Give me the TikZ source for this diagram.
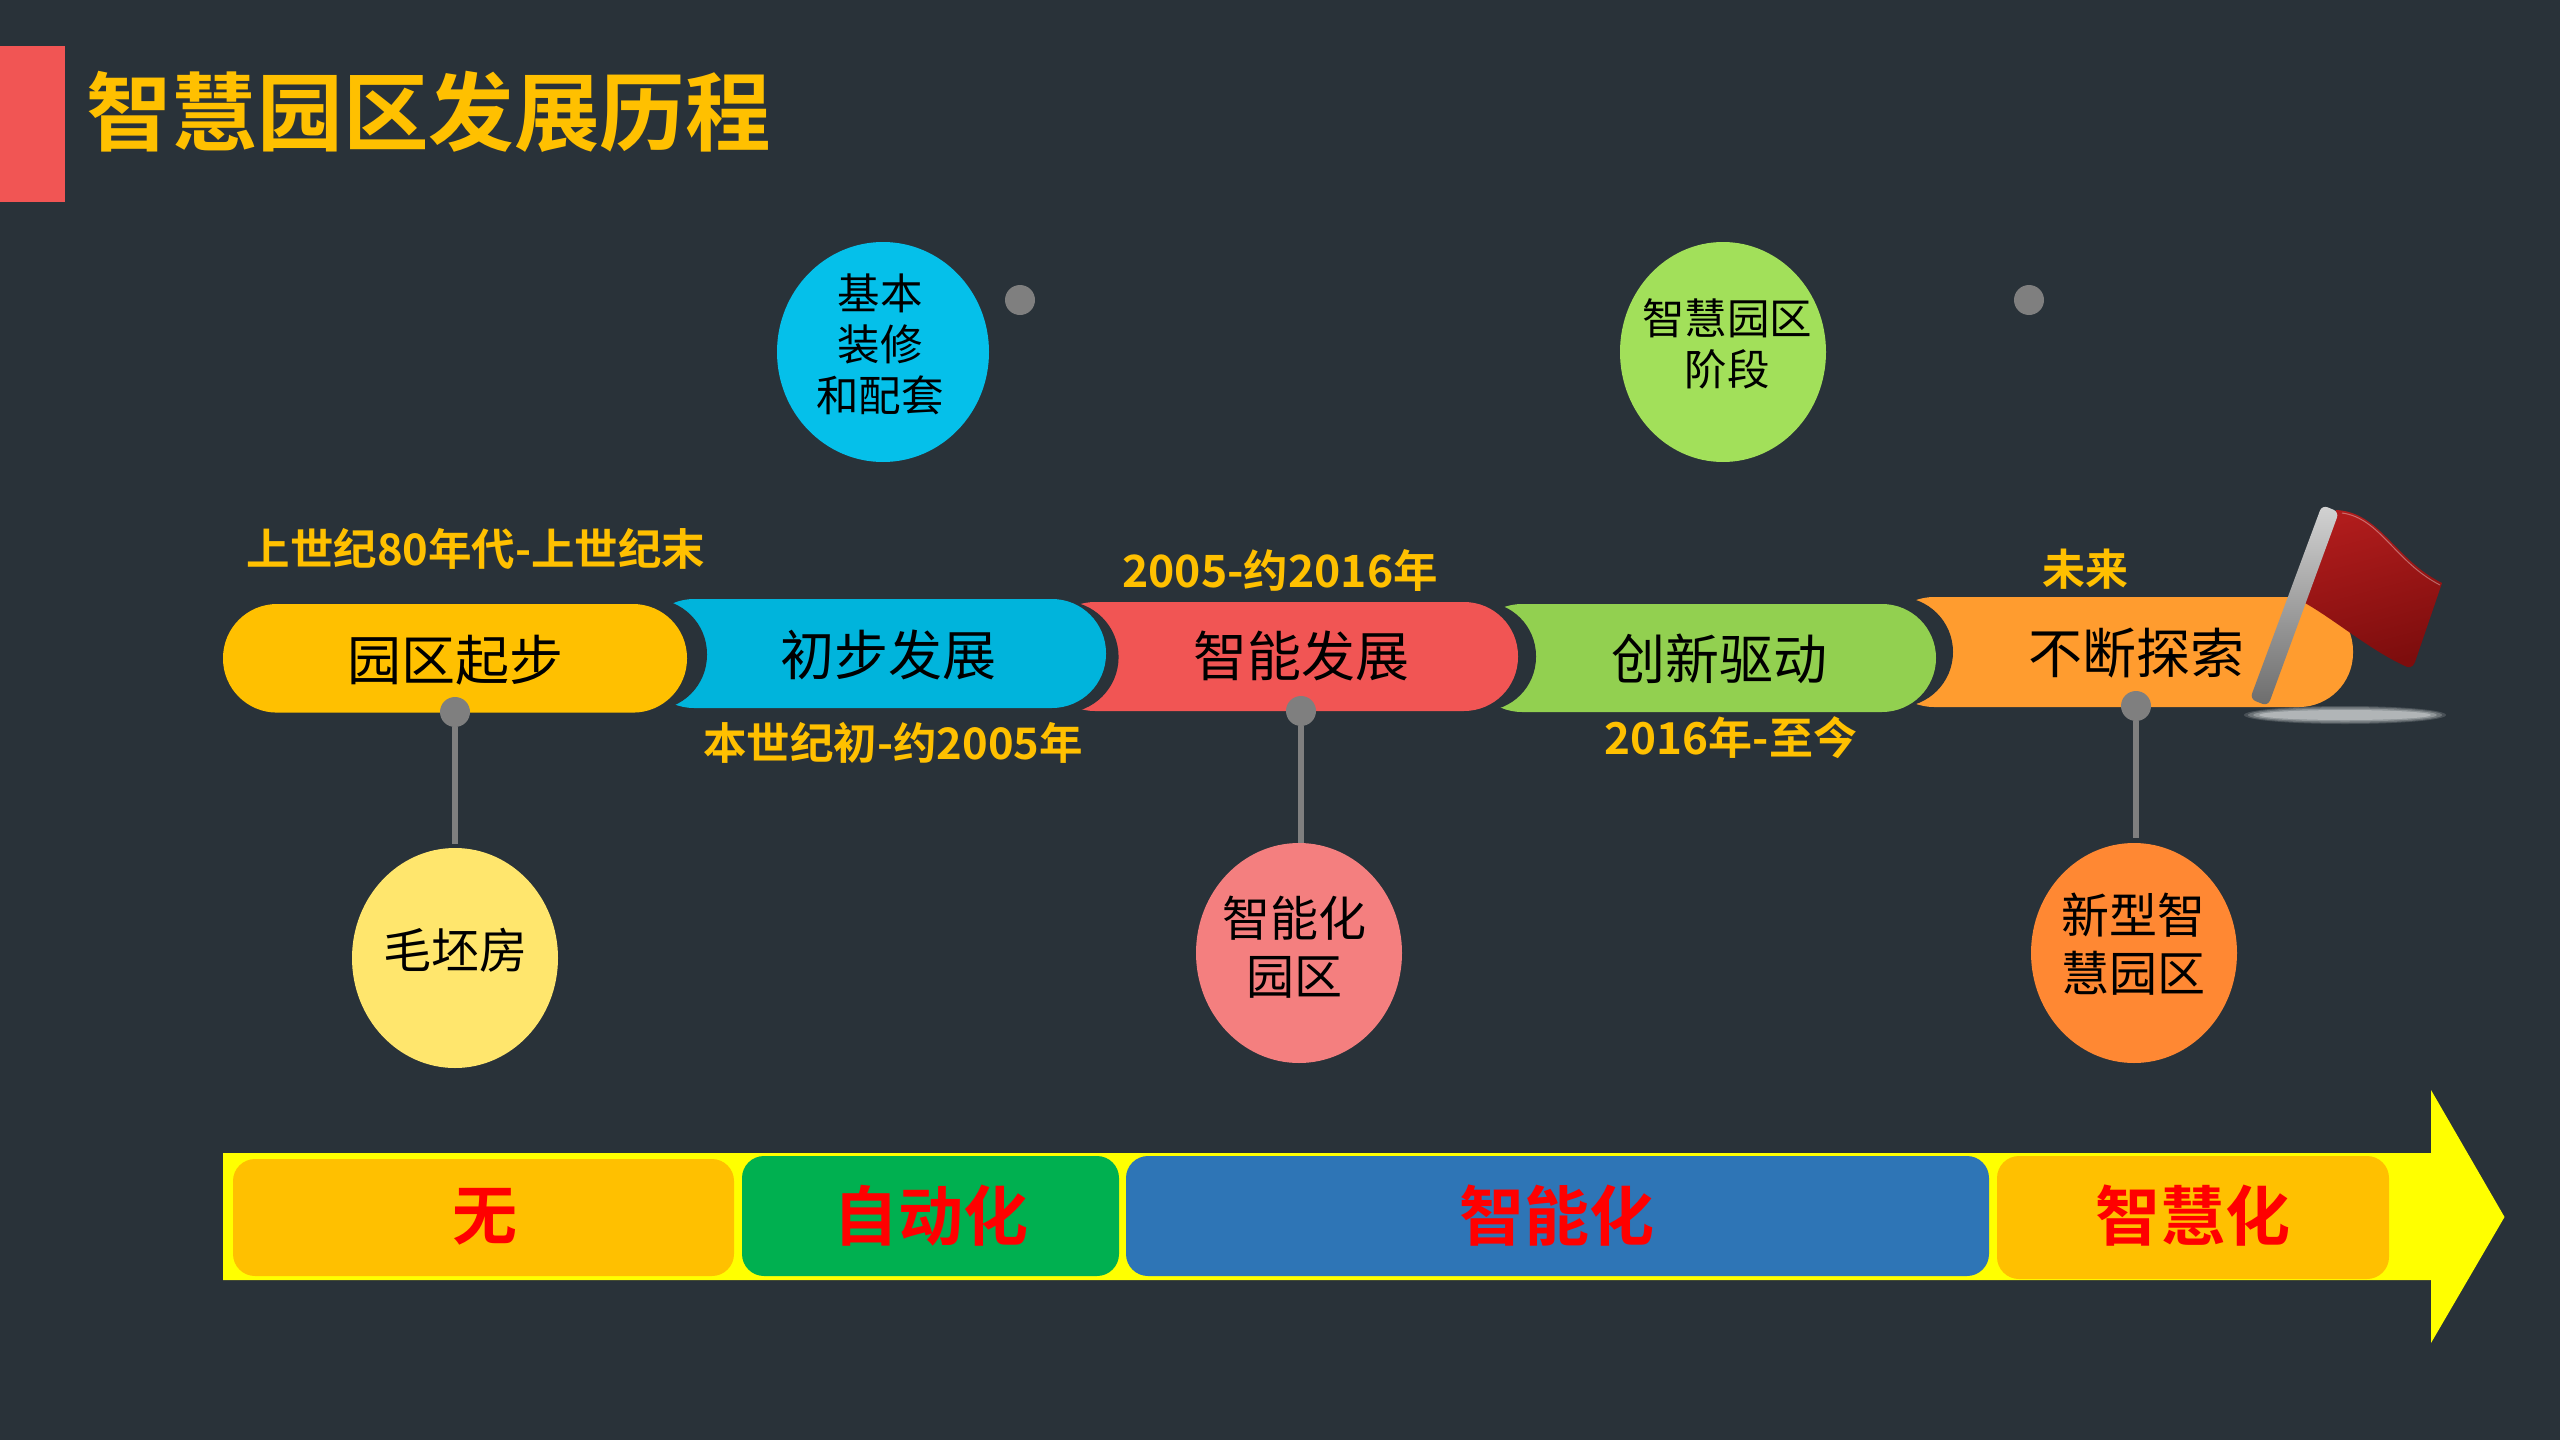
\documentclass[tikz,border=0pt]{standalone}
\usepackage{fontspec}
\setmainfont{Noto Sans CJK SC}
\newfontfamily\cjkb{Noto Sans CJK SC Bold}
\usetikzlibrary{calc,shapes.geometric}
\definecolor{bgc}{HTML}{293239}
\definecolor{gold}{HTML}{FFC000}
\definecolor{redc}{HTML}{F15554}
\definecolor{bluec}{HTML}{00B4DC}
\definecolor{greenc}{HTML}{92D050}
\definecolor{orangec}{HTML}{FF9C2F}
\definecolor{dotc}{HTML}{7F7F7F}
\definecolor{arrowc}{HTML}{FFFF00}
\definecolor{redt}{HTML}{FF0000}
\definecolor{stgreen}{HTML}{00B050}
\definecolor{stblue}{HTML}{2E75B6}
\definecolor{bubyellow}{HTML}{FFE66D}
\definecolor{bubcyan}{HTML}{05C0EA}
\definecolor{bubred}{HTML}{F47F7F}
\definecolor{bubgreen}{HTML}{A2E05A}
\definecolor{buborange}{HTML}{FF8833}
\definecolor{flagl}{HTML}{B01C1C}
\definecolor{flagr}{HTML}{7D0D0D}
\tikzset{x=1pt,y=-1pt,
 pillbox/.style={rounded corners=54pt,inner sep=0pt},
 pilltext/.style={font=\fontsize{54}{54}\selectfont,text=black,inner sep=0pt},
 datetext/.style={font=\cjkb\fontsize{#1}{44}\selectfont,text=gold,inner sep=0pt},
 datetext/.default=44,
 bubble/.style={ellipse,minimum width=206pt,minimum height=220pt,inner sep=0pt},
 bublarge/.style={align=center,text=black,inner sep=0pt,font=\fontsize{48}{58.5}\selectfont},
 bubsmall/.style={align=center,text=black,inner sep=0pt,font=\fontsize{42.5}{51}\selectfont},
 dotn/.style={circle,fill=dotc,minimum size=30pt,inner sep=0pt},
 stem/.style={draw=dotc,line width=6pt},
 stagebox/.style={rounded corners=22pt},
 stagetext/.style={font=\cjkb\fontsize{65}{65}\selectfont,text=redt,inner sep=0pt},
}
\begin{document}
\begin{tikzpicture}
\useasboundingbox (0,0) rectangle (2560,1440);
\fill[bgc] (0,0) rectangle (2560,1440);
% title
\fill[redc] (0,46) rectangle (65,202);
\node[font=\cjkb\fontsize{85.6}{85.6}\selectfont,text=gold,inner sep=0pt,anchor=west] (title) at (86,112) {智慧园区发展历程};
% pills, right to left
\fill[orangec,pillbox] (1880,597) rectangle (2353,707);
\fill[bgc,rounded corners=55pt] (1600,597) rectangle (1953,707);
\fill[greenc,pillbox] (1468,604) rectangle (1936,712);
\fill[bgc,rounded corners=54pt] (1200,602) rectangle (1536,711);
\fill[redc,pillbox] (1041,602) rectangle (1518,711);
\fill[bgc,rounded corners=56pt] (800,601) rectangle (1118.6,713);
\fill[bluec,pillbox] (640,599) rectangle (1106,708);
\fill[bgc,rounded corners=55pt] (400,599) rectangle (707,710);
\fill[gold,pillbox] (223,604) rectangle (687,712.6);
\node[pilltext] (p1) at (455,660) {园区起步};
\node[pilltext] (p2) at (888,655) {初步发展};
\node[pilltext] (p3) at (1301,656) {智能发展};
\node[pilltext] (p4) at (1719,658.5) {创新驱动};
\node[pilltext] (p5) at (2136,653) {不断探索};
% dates
\node[datetext=43.5] (d1) at (476,549) {上世纪80年代-上世纪末};
\node[datetext=43.5] (d2) at (893,743) {本世纪初-约2005年};
\node[datetext=44.5] (d3) at (1280,570) {2005-约2016年};
\node[datetext=44] (d4) at (1731,738) {2016年-至今};
\node[datetext=43] (d5) at (2085,569) {未来};
% bubbles
\node[bubble,fill=bubyellow] (b1) at (455,958) {};
\node[bubble,fill=bubred] (b3) at (1299,953) {};
\node[bubble,fill=buborange] (b5) at (2134,953) {};
\node[bubble,fill=bubcyan,minimum width=212pt] (b2) at (883,352) {};
\node[bubble,fill=bubgreen] (b4) at (1723,352) {};
\node[bublarge] (t1) at (455,950) {毛坯房};
\node[bublarge] (t3) at (1294,947) {智能化\\园区};
\node[bublarge] (t5) at (2133,944) {新型智\\慧园区};
\node[bubsmall] (t2) at (880,344) {基本\\装修\\和配套};
\node[bubsmall] (t4) at (1727,344) {智慧园区\\阶段};
% dots
\node[dotn] (n1) at (455,712) {};
\node[dotn] (n3) at (1301,711) {};
\node[dotn] (n5) at (2136,706) {};
\node[dotn] (n2) at (1020,300) {};
\node[dotn] (n4) at (2029,300) {};
\coordinate (e1) at (455,844);
\coordinate (e3) at (1301,843);
\coordinate (e5) at (2136,838);
\draw[stem] (n1) -- (e1);
\draw[stem] (n3) -- (e3);
\draw[stem] (n5) -- (e5);
% arrow
\fill[arrowc] (223,1153) -- (2431,1153) -- (2431,1090) -- (2504.5,1217) -- (2431,1343) -- (2431,1280) -- (223,1280) -- cycle;
\fill[gold,stagebox] (233,1159) rectangle (734,1276);
\fill[stgreen,stagebox] (742,1156) rectangle (1119,1276);
\fill[stblue,stagebox] (1126,1156) rectangle (1989,1276);
\fill[gold,stagebox] (1997,1156) rectangle (2389,1279);
\node[stagetext] (s1) at (485,1217) {无};
\node[stagetext] (s2) at (931,1216) {自动化};
\node[stagetext] (s3) at (1557,1216) {智能化};
\node[stagetext] (s4) at (2193,1216) {智慧化};
% flag
\foreach \o/\rx/\ry in {0.15/101/9,0.2/97/8,0.25/92/6.5,0.3/86/5}
  \fill[white,opacity=\o] (2345,715) ellipse ({\rx} and {\ry});
\shade[left color=flagl,right color=flagr,shading angle=15]
  (2336,510) .. controls (2380,512) and (2395,560) .. (2442,583) -- (2415,662)
  .. controls (2413,668) and (2408,668) .. (2405,666) .. controls (2370,650) and (2335,620) .. (2305,603) -- cycle;
\draw[white,opacity=.35,line width=1pt] (2342,513) .. controls (2380,518) and (2395,562) .. (2440,585);
\shade[top color=gray!35,bottom color=gray!85!black,rounded corners=6pt]
  (2322,505) -- (2339,512) -- (2268,706) -- (2250,699) -- cycle;
\end{tikzpicture}
\end{document}
